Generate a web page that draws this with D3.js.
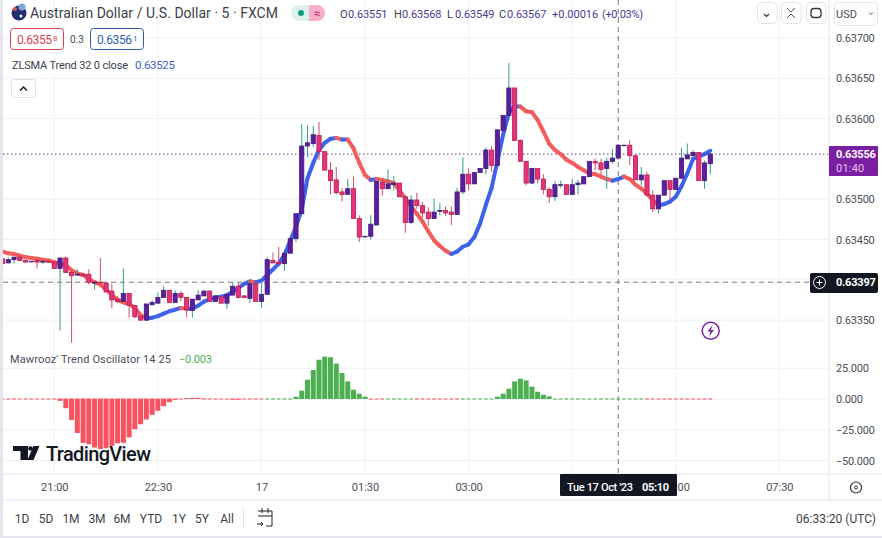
<!DOCTYPE html>
<html>
<head>
<meta charset="utf-8">
<script src="https://cdn.jsdelivr.net/npm/d3@7"></script>
<style>
  html, body { margin: 0; padding: 0; background: #fff; }
  svg { display: block; font-family: Roboto, sans-serif; }
</style>
</head>
<body>
<div id="chart"></div>
<script>
// all prices are in units of 0.00001, bar 0 is the 21:00 candle, bars are 5 minutes apart
const firstBar = -9
const opens = [
  63426, 63421, 63425, 63428, 63424, 63423, 63424, 63422, 63423, 63422,
  63414, 63427, 63409, 63406, 63407, 63407, 63396, 63397, 63396, 63386,
  63376, 63373, 63383, 63368, 63355, 63350, 63369, 63371, 63378, 63387,
  63372, 63383, 63378, 63362, 63375, 63380, 63386, 63373, 63379, 63371,
  63381, 63392, 63380, 63377, 63395, 63373, 63382, 63424, 63422, 63420,
  63433, 63451, 63482, 63566, 63569, 63579, 63559, 63536, 63524, 63509,
  63506, 63513, 63476, 63454, 63454, 63468, 63521, 63513, 63518, 63520,
  63503, 63471, 63499, 63492, 63484, 63476, 63485, 63486, 63484, 63481,
  63509, 63531, 63519, 63533, 63538, 63561, 63542, 63585, 63604, 63638,
  63573, 63547, 63520, 63538, 63525, 63512, 63503, 63518, 63518, 63506,
  63518, 63519, 63528, 63547, 63545, 63538, 63547, 63551, 63567, 63567,
  63554, 63524, 63530, 63505, 63488, 63505, 63523, 63512, 63526, 63550,
  63554, 63558, 63523, 63544]
const highs = [
  63428, 63428, 63429, 63429, 63424, 63423, 63427, 63423, 63423, 63422,
  63428, 63429, 63412, 63413, 63408, 63413, 63397, 63427, 63397, 63395,
  63380, 63414, 63383, 63369, 63355, 63370, 63375, 63384, 63392, 63387,
  63387, 63386, 63378, 63376, 63387, 63387, 63387, 63381, 63380, 63383,
  63397, 63396, 63381, 63400, 63399, 63396, 63428, 63434, 63441, 63433,
  63451, 63482, 63593, 63592, 63591, 63596, 63559, 63546, 63540, 63514,
  63525, 63528, 63480, 63454, 63480, 63522, 63524, 63537, 63529, 63520,
  63505, 63505, 63508, 63497, 63490, 63501, 63495, 63491, 63491, 63514,
  63552, 63538, 63534, 63538, 63564, 63566, 63587, 63604, 63669, 63638,
  63574, 63547, 63538, 63538, 63531, 63515, 63523, 63523, 63518, 63525,
  63524, 63528, 63547, 63550, 63550, 63551, 63562, 63568, 63567, 63573,
  63554, 63540, 63534, 63511, 63505, 63523, 63523, 63526, 63564, 63569,
  63561, 63558, 63548, 63561]
const lows = [
  63418, 63420, 63420, 63424, 63421, 63422, 63414, 63420, 63421, 63414,
  63337, 63409, 63322, 63405, 63405, 63394, 63388, 63396, 63385, 63365,
  63371, 63373, 63353, 63353, 63349, 63349, 63369, 63371, 63378, 63371,
  63371, 63373, 63353, 63353, 63375, 63380, 63373, 63373, 63371, 63364,
  63381, 63377, 63378, 63371, 63373, 63365, 63381, 63421, 63420, 63411,
  63433, 63447, 63481, 63552, 63565, 63549, 63536, 63506, 63506, 63497,
  63506, 63476, 63447, 63454, 63450, 63468, 63504, 63513, 63511, 63503,
  63458, 63469, 63488, 63477, 63467, 63476, 63480, 63479, 63468, 63481,
  63506, 63511, 63519, 63533, 63531, 63534, 63542, 63585, 63604, 63573,
  63547, 63517, 63519, 63520, 63506, 63495, 63498, 63514, 63506, 63505,
  63506, 63519, 63528, 63536, 63531, 63513, 63544, 63549, 63567, 63542,
  63524, 63517, 63505, 63484, 63482, 63505, 63499, 63512, 63526, 63550,
  63554, 63523, 63513, 63531]
const closes = [
  63420, 63425, 63428, 63424, 63422, 63423, 63422, 63423, 63422, 63414,
  63427, 63409, 63405, 63407, 63405, 63397, 63397, 63396, 63385, 63375,
  63373, 63383, 63368, 63354, 63350, 63370, 63372, 63378, 63387, 63372,
  63383, 63378, 63363, 63376, 63381, 63386, 63373, 63380, 63371, 63382,
  63392, 63378, 63378, 63395, 63373, 63382, 63425, 63421, 63420, 63433,
  63451, 63482, 63566, 63570, 63580, 63559, 63536, 63523, 63508, 63506,
  63513, 63476, 63453, 63454, 63469, 63522, 63513, 63519, 63520, 63503,
  63471, 63499, 63492, 63483, 63476, 63484, 63486, 63483, 63481, 63509,
  63531, 63519, 63533, 63538, 63561, 63542, 63586, 63604, 63638, 63573,
  63547, 63520, 63538, 63525, 63512, 63503, 63518, 63518, 63506, 63518,
  63520, 63528, 63547, 63545, 63537, 63547, 63551, 63567, 63567, 63554,
  63524, 63530, 63505, 63488, 63505, 63523, 63512, 63526, 63551, 63555,
  63558, 63523, 63545, 63556]
const zlsma = [
  63435, 63433, 63432, 63430, 63428, 63427, 63426, 63425, 63424, 63422,
  63420, 63418, 63412, 63408, 63406, 63401, 63397, 63394, 63388, 63381,
  63375, 63372, 63370, 63365, 63356, 63352, 63353, 63355, 63358, 63361,
  63363, 63365, 63364, 63364, 63368, 63373, 63376, 63378, 63379, 63381,
  63385, 63390, 63395, 63398, 63397, 63399, 63406, 63413, 63420, 63431,
  63448, 63466, 63487, 63526, 63545, 63561, 63570, 63575, 63576, 63574,
  63574, 63563, 63545, 63530, 63524, 63525, 63524, 63522, 63520, 63511,
  63501, 63491, 63482, 63472, 63460, 63449, 63442, 63436, 63432, 63435,
  63441, 63444, 63453, 63470, 63493, 63514, 63547, 63580, 63607, 63615,
  63615, 63609, 63608, 63598, 63584, 63569, 63561, 63556, 63549, 63545,
  63540, 63536, 63532, 63531, 63528, 63525, 63523, 63525, 63528, 63525,
  63518, 63513, 63507, 63499, 63492, 63494, 63497, 63503, 63516, 63532,
  63550, 63553, 63556, 63560]
const oscillator = [
  0, 0, 0, 0, 0, 0, 0, 0, 0, 0,
  -1.9, -7.9, -17.4, -28, -36.1, -37.2, -39.9, -41, -40.4, -38.5,
  -36.4, -36.1, -31.5, -25, -20.9, -17.1, -13.3, -10, -6.2, -3,
  -1.1, -0.3, 0.8, 1, 1, 0.5, 0, 0, 0, -0.3,
  -1, -1, -0.2, 0, 0, 0, 0, 0, 0, 0,
  0, 1.9, 6.8, 15.7, 23.6, 32, 34.5, 34, 28.8, 21.2,
  14.4, 7.6, 4.3, 1.9, 0.3, 0, 0, 0, 0, 0,
  0, 0, 0, 0, 0, 0, 0, 0, 0, 0,
  0, 0, 0, 0, 0, 0, 1.9, 4.3, 8.4, 14.4,
  16.6, 15.2, 10, 5.9, 3.5, 2.2, 0.3, 0, 0, 0,
  0, 0, 0, 0, 0, 0, 0, 0, 0, 0,
  0, 0, 0, 0, 0, 0, 0, 0, 0, 0,
  0, 0, 0, -0.003]
// bar ranges where the oscillator is painted green, red everywhere else
const greenRuns = [[37, 54], [58, 62], [71, 102]]

const gridPrices = [63700, 63650, 63600, 63550, 63500, 63450, 63400, 63350]
// 0.63550 and 0.63400 sit behind the price tags so they get no label
const priceTicks = [63700, 63650, 63600, 63500, 63450, 63350]
const oscTicks = [25, 0, -25, -50]
const gridTimes = [0, 18, 36, 54, 72, 90, 108, 126]
// 04:30 sits behind the crosshair tag
const timeTicks = [0, 18, 36, 54, 72, 108, 126]
const timeLabels = ['21:00', '22:30', '17', '01:30', '03:00', '06:00', '07:30']
const rangeButtons = ['1D', '5D', '1M', '3M', '6M', 'YTD', '1Y', '5Y', 'All']
const rangeX = [22, 46, 71, 97, 122, 151, 179, 202, 227]
const lastPrice = 63556
const crosshairPrice = 63397
const crosshairBar = 98

const width = 882
const height = 538
const paneRight = 829
const paneBottom = 474
const upColor = '#5a1f9e'
const upBorder = '#43197a'
const downColor = '#e8317c'
const downBorder = '#b3204f'
const textColor = '#4a4d58'

const xScale = d3.scaleLinear().domain([0, 114]).range([54.3, 710.3])
const yScale = d3.scaleLinear().domain([63700, 63350]).range([38, 320.1])
const oscScale = d3.scaleLinear().domain([25, -50]).range([368.3, 460.5])

const svg = d3.select('#chart').append('svg')
  .attr('width', width)
  .attr('height', height)

function label(x, y, str, color, size, anchor, weight) {
  return svg.append('text')
    .attr('x', x)
    .attr('y', y)
    .attr('fill', color || textColor)
    .attr('font-size', size || 11)
    .attr('text-anchor', anchor || 'start')
    .attr('font-weight', weight || 400)
    .text(str)
}

// grid
const grid = svg.append('g').attr('stroke', '#eff1f6')
grid.selectAll('.gx').data(gridTimes).join('line')
  .attr('x1', d => xScale(d)).attr('x2', d => xScale(d))
  .attr('y1', 0).attr('y2', paneBottom)
grid.selectAll('.gy').data(gridPrices).join('line')
  .attr('x1', 0).attr('x2', paneRight)
  .attr('y1', d => yScale(d)).attr('y2', d => yScale(d))
grid.selectAll('.go').data(oscTicks).join('line')
  .attr('x1', 0).attr('x2', paneRight)
  .attr('y1', d => oscScale(d)).attr('y2', d => oscScale(d))

// crosshair and last price lines
svg.append('line')
  .attr('x1', 3).attr('x2', paneRight)
  .attr('y1', yScale(lastPrice)).attr('y2', yScale(lastPrice))
  .attr('stroke', '#6a2c91').attr('stroke-dasharray', '1.5 2.5')
svg.append('line')
  .attr('x1', 3).attr('x2', 812)
  .attr('y1', yScale(crosshairPrice)).attr('y2', yScale(crosshairPrice))
  .attr('stroke', '#777').attr('stroke-dasharray', '5 4')
svg.append('line')
  .attr('x1', xScale(crosshairBar)).attr('x2', xScale(crosshairBar))
  .attr('y1', 0).attr('y2', paneBottom)
  .attr('stroke', '#777').attr('stroke-dasharray', '5 4')

// zlsma line, one small piece per bar so each can take its own colour
const bars = opens.map((o, i) => ({
  k: firstBar + i, o, h: highs[i], l: lows[i], c: closes[i], z: zlsma[i], v: oscillator[i]
}))
const zLine = d3.line().x(d => xScale(d.k)).y(d => yScale(d.z))
svg.append('g').attr('fill', 'none').attr('stroke-width', 4).attr('stroke-linecap', 'round')
  .selectAll('path')
  .data(d3.pairs(bars))
  .join('path')
  .attr('d', d => zLine(d))
  .attr('stroke', d => d[1].z >= d[0].z ? '#3c63ea' : '#f25c5c')

// candles
const candles = svg.append('g').selectAll('g').data(bars).join('g')
candles.append('line')
  .attr('x1', d => xScale(d.k)).attr('x2', d => xScale(d.k))
  .attr('y1', d => yScale(d.h)).attr('y2', d => yScale(d.l))
  .attr('stroke', d => d.c >= d.o ? '#2f9c8c' : '#d2505e')
candles.append('rect')
  .attr('x', d => xScale(d.k) - 2.1)
  .attr('width', 4.2)
  .attr('y', d => yScale(Math.max(d.o, d.c)))
  .attr('height', d => Math.max(0.6, yScale(Math.min(d.o, d.c)) - yScale(Math.max(d.o, d.c))))
  .attr('fill', d => d.c >= d.o ? upColor : downColor)
  .attr('stroke', d => d.c >= d.o ? upBorder : downBorder)
  .attr('stroke-width', 0.8)

// oscillator histogram, bars around zero read as a dashed line
const isGreen = k => greenRuns.some(r => k >= r[0] && k <= r[1])
const barWidth = d => Math.abs(d.v) < 0.5 ? 3.8 : 5
svg.append('g').selectAll('rect').data(bars).join('rect')
  .attr('x', d => xScale(d.k) - barWidth(d) / 2)
  .attr('width', barWidth)
  .attr('y', d => d.v > 0 ? oscScale(d.v) : oscScale(0) - 0.5)
  .attr('height', d => Math.max(1, Math.abs(oscScale(d.v) - oscScale(0))))
  .attr('fill', d => isGreen(d.k) ? '#4caf50' : '#f7525f')

// tradingview logo
const logo = svg.append('g').attr('fill', '#131722')
logo.append('path').attr('d', 'M13 446h15v14h-7.500v-9H13z')
logo.append('circle').attr('cx', 30.500).attr('cy', 448.500).attr('r', 2.300)
logo.append('path').attr('d', 'M33.500 446h6l-6 14h-6z')
label(46, 461, 'TradingView', '#131722', 20, 'start', 500).attr('textLength', 105)

// axes
const priceAxis = d3.axisRight(yScale)
  .tickValues(priceTicks)
  .tickSize(0)
  .tickFormat(d => (d / 1e5).toFixed(5))
const priceG = svg.append('g').attr('transform', `translate(${paneRight} 0)`).call(priceAxis)
const oscAxis = d3.axisRight(oscScale)
  .tickValues(oscTicks)
  .tickSize(0)
  .tickFormat(d => d3.format('.3f')(d))
const oscG = svg.append('g').attr('transform', `translate(${paneRight} 0)`).call(oscAxis)
const timeAxis = d3.axisBottom(xScale)
  .tickValues(timeTicks)
  .tickSize(0)
  .tickFormat((d, i) => timeLabels[i])
const timeG = svg.append('g').attr('transform', `translate(0 ${paneBottom})`).call(timeAxis)
for (const g of [priceG, oscG, timeG]) {
  g.attr('font-family', 'Roboto, sans-serif')
  g.select('.domain').remove()
  g.selectAll('text').attr('fill', textColor).attr('font-size', 11)
}
priceG.selectAll('text').attr('x', 7).attr('letter-spacing', -0.2)
oscG.selectAll('text').attr('x', 7).attr('letter-spacing', -0.2)
timeG.selectAll('text').attr('y', 9)

// frame
svg.append('rect').attr('x', 0).attr('y', 0).attr('width', 3).attr('height', height).attr('fill', '#e4e5ee')
svg.append('line').attr('x1', paneRight).attr('x2', paneRight).attr('y1', 0).attr('y2', 500).attr('stroke', '#e0e3eb')
svg.append('line').attr('x1', 3).attr('x2', width).attr('y1', paneBottom).attr('y2', paneBottom).attr('stroke', '#e0e3eb')
svg.append('line').attr('x1', 3).attr('x2', width).attr('y1', 500).attr('y2', 500).attr('stroke', '#e0e3eb')
svg.append('rect').attr('x', 0).attr('y', 536).attr('width', width).attr('height', 2).attr('fill', '#e4e5ee')

// price and time tags
svg.append('rect').attr('x', paneRight).attr('y', 146).attr('width', 49).attr('height', 30).attr('rx', 1).attr('fill', '#7b1fa2')
label(836, 158, (lastPrice / 1e5).toFixed(5), '#fff', 11, 'start', 700).attr('letter-spacing', -0.2)
label(836, 172, '01:40', '#e3c4ee', 11).attr('letter-spacing', 0.2)
svg.append('rect').attr('x', 810).attr('y', 273).attr('width', 68).attr('height', 20).attr('rx', 2).attr('fill', '#131722')
svg.append('circle').attr('cx', 819.500).attr('cy', 282.500).attr('r', 6).attr('fill', 'none').attr('stroke', '#fff')
svg.append('path').attr('d', 'M816.500 282.500h6M819.500 279.500v6').attr('stroke', '#fff')
label(836, 286, (crosshairPrice / 1e5).toFixed(5), '#fff', 11, 'start', 700).attr('letter-spacing', -0.2)
svg.append('rect').attr('x', 560).attr('y', paneBottom).attr('width', 117).attr('height', 22).attr('rx', 1).attr('fill', '#131722')
label(567, 491, "Tue 17 Oct '23", '#fff', 11, 'start', 500).attr('textLength', 66)
label(642, 491, '05:10', '#fff', 11, 'start', 700).attr('textLength', 27)

// header
const flag = svg.append('g')
flag.append('circle').attr('cx', 19).attr('cy', 13).attr('r', 7.500).attr('fill', '#22306e')
flag.append('circle').attr('cx', 22).attr('cy', 7).attr('r', 3.500).attr('fill', '#7ea6d8')
flag.append('circle').attr('cx', 15).attr('cy', 9).attr('r', 2).attr('fill', '#e25563')
flag.append('circle').attr('cx', 21).attr('cy', 16).attr('r', 1.500).attr('fill', '#fff')
label(30, 18, 'Australian Dollar / U.S. Dollar · 5 · FXCM', '#3c3f4a', 14).attr('textLength', 248)
svg.append('path').attr('d', 'M309 5h-10a8 8 0 0 0 0 16h10z').attr('fill', '#dff1ec')
svg.append('path').attr('d', 'M309 5h8a8 8 0 0 1 0 16h-8z').attr('fill', '#f6aecb')
svg.append('circle').attr('cx', 301).attr('cy', 13).attr('r', 3).attr('fill', '#0f9d80')
label(317, 17, '≈', '#c2185b', 11, 'middle')

const ohlc = [[340, 'O', '0.63551'], [394, 'H', '0.63568'], [447, 'L', '0.63549'], [499, 'C', '0.63567']]
ohlc.forEach(d => {
  label(d[0], 18, d[1], '#3c3f4a', 11)
  label(d[0] + 8, 18, d[2], '#4a3a93', 11).attr('letter-spacing', -0.1)
})
label(552, 18, '+0.00016', '#4a3a93', 11)
label(602, 18, '(+0.03%)', '#4a3a93', 11).attr('textLength', 41)

const boxes = [[10, 53, '#d9434f', '0.6355', '8', 16], [90, 53, '#2f5fa8', '0.6356', '1', 96]]
boxes.forEach(d => {
  svg.append('rect').attr('x', d[0] + 0.500).attr('y', 28.500).attr('width', d[1]).attr('height', 21).attr('rx', 3)
    .attr('fill', '#fff').attr('stroke', d[2])
  label(d[5] + 1, 44, d[3], d[2], 12).attr('textLength', 35)
  label(d[5] + 37, 41, d[4], d[2], 8)
})
label(70, 43, '0.3', '#4a4d58', 10)

label(12, 69, 'ZLSMA Trend 32 0 close', '#3c3f4a', 11).attr('textLength', 116)
label(135, 69, '0.63525', '#3c63c8', 11.500).attr('textLength', 40)
svg.append('rect').attr('x', 11.500).attr('y', 79.500).attr('width', 24).attr('height', 18).attr('rx', 2)
  .attr('fill', '#fff').attr('stroke', '#dfe1e8')
svg.append('path').attr('d', 'M20 90.500l3.500-3.500 3.500 3.500').attr('fill', 'none').attr('stroke', '#131722').attr('stroke-width', 1.500)

label(10, 363, "Mawrooz' Trend Oscillator 14 25", '#4a4d58', 11).attr('textLength', 161)
label(179, 363, '−0.003', '#4caf50', 11).attr('textLength', 33)

// top right buttons
const topButtons = [757, 781, 806]
svg.selectAll('.btn').data(topButtons).join('rect')
  .attr('x', d => d + 0.500).attr('y', 2.500).attr('width', 19.500).attr('height', 21).attr('rx', 4)
  .attr('fill', '#fff').attr('stroke', '#e0e3eb')
svg.append('path').attr('d', 'M764 14l2.500 2.500 2.500-2.500').attr('fill', 'none').attr('stroke', '#333').attr('stroke-width', 1.200)
svg.append('path').attr('d', 'M787 8l4 4 4-4M787 18l4-4 4 4').attr('fill', 'none').attr('stroke', '#555')
svg.append('rect').attr('x', 811).attr('y', 8.500).attr('width', 10).attr('height', 9).attr('rx', 3).attr('fill', 'none').attr('stroke', '#333').attr('stroke-width', 1.300)
svg.append('rect').attr('x', 834.500).attr('y', 2.500).attr('width', 43).attr('height', 23).attr('rx', 3).attr('fill', '#fff').attr('stroke', '#e0e3eb')
label(836, 18, 'USD', '#4a4d58', 11)
svg.append('path').attr('d', 'M869 12.500l2 2 2-2').attr('fill', 'none').attr('stroke', '#555')

// lightning badge
svg.append('circle').attr('cx', 710.700).attr('cy', 330.700).attr('r', 8.500).attr('fill', '#fff').attr('stroke', '#7b1fa2').attr('stroke-width', 1.500)
svg.append('path').attr('d', 'M712.500 325l-5 6.500h3l-1.500 5 5-6.500h-3z').attr('fill', '#7b1fa2')

// bottom toolbar
svg.selectAll('.range').data(rangeButtons).join('text')
  .attr('x', (d, i) => rangeX[i])
  .attr('y', 523)
  .attr('text-anchor', 'middle')
  .attr('fill', '#3c3f4a')
  .attr('font-size', 12)
  .text(d => d)
svg.append('line').attr('x1', 243.500).attr('x2', 243.500).attr('y1', 508).attr('y2', 528).attr('stroke', '#e0e3eb')
svg.append('path').attr('d', 'M258 511h14v15h-6M258 516h14M262 508v5M268 508v5M257 524h6l-2-2M263 524l-2 2')
  .attr('fill', 'none').attr('stroke', '#222')
label(876, 523, '06:33:20 (UTC)', '#3c3f4a', 12, 'end')
svg.append('circle').attr('cx', 856).attr('cy', 487.500).attr('r', 5.500).attr('fill', 'none').attr('stroke', '#333').attr('stroke-width', 1.200)
svg.append('circle').attr('cx', 856).attr('cy', 487.500).attr('r', 1.500).attr('fill', 'none').attr('stroke', '#333')
</script>
</body>
</html>
